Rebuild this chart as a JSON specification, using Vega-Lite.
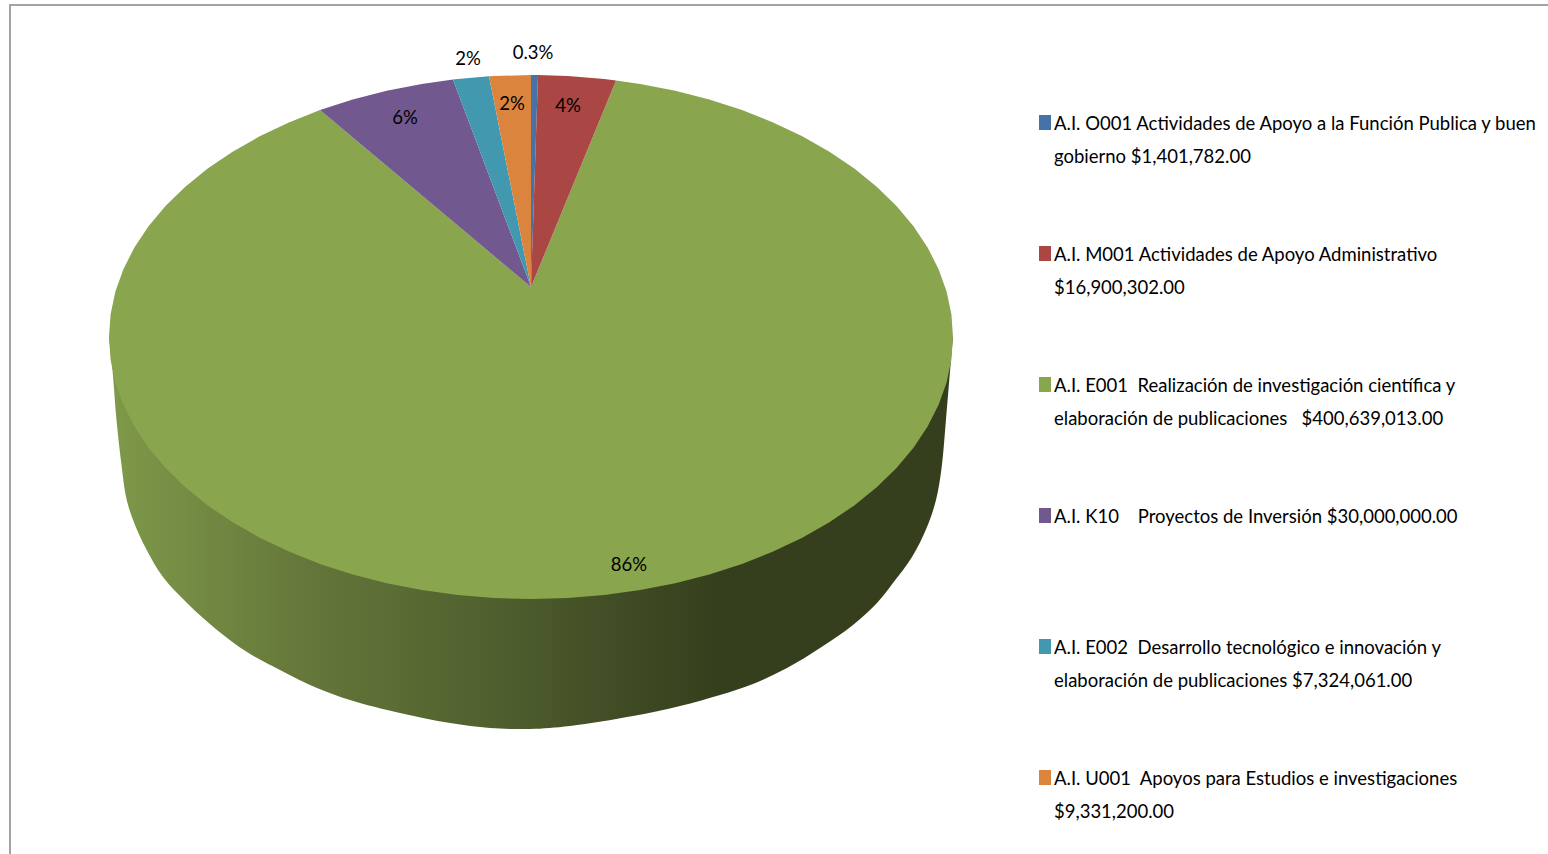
{
"$schema":"https://vega.github.io/schema/vega-lite/v6.json",
"width":1548,"height":854,"padding":0,"autosize":{"type":"none"},"background":"#ffffff",
"config":{"view":{"stroke":null}},
"datasets":{
"frame":[{"i":0,"x":10,"y":854},{"i":1,"x":10,"y":5},{"i":2,"x":1548,"y":5}],
"wall":[
{"i":0,"x":109,"y":337},{"i":1,"x":112.5,"y":370},{"i":2,"x":116.5,"y":420},{"i":3,"x":121.5,"y":465},{"i":4,"x":126.7,"y":500},{"i":5,"x":135,"y":525},{"i":6,"x":146.7,"y":550},{"i":7,"x":163,"y":577},{"i":8,"x":187,"y":603},{"i":9,"x":217,"y":630},{"i":10,"x":247,"y":652},{"i":11,"x":280,"y":670},{"i":12,"x":317,"y":688},{"i":13,"x":350,"y":700},{"i":14,"x":400,"y":713},{"i":15,"x":450,"y":723},{"i":16,"x":490,"y":728},{"i":17,"x":530,"y":729},{"i":18,"x":570,"y":726},{"i":19,"x":633,"y":716},{"i":20,"x":680,"y":706},{"i":21,"x":720,"y":695},{"i":22,"x":753,"y":684},{"i":23,"x":787,"y":668},{"i":24,"x":820,"y":648},{"i":25,"x":853,"y":625},{"i":26,"x":877,"y":603},{"i":27,"x":893,"y":583},{"i":28,"x":912,"y":557},{"i":29,"x":927,"y":527},{"i":30,"x":936,"y":500},{"i":31,"x":941.7,"y":467},{"i":32,"x":945.7,"y":423},{"i":33,"x":950.7,"y":363},{"i":34,"x":953,"y":337}
],
"slices":[
{"slice":"E001","i":0,"x":531,"y":287},{"slice":"E001","i":1,"x":616,"y":80.4},{"slice":"E001","i":2,"x":640.2,"y":83.9},{"slice":"E001","i":3,"x":675.3,"y":90.8},{"slice":"E001","i":4,"x":709.3,"y":99.5},{"slice":"E001","i":5,"x":742,"y":110.1},{"slice":"E001","i":6,"x":773.1,"y":122.4},{"slice":"E001","i":7,"x":802.3,"y":136.3},{"slice":"E001","i":8,"x":829.4,"y":151.7},{"slice":"E001","i":9,"x":854.3,"y":168.6},{"slice":"E001","i":10,"x":876.7,"y":186.7},{"slice":"E001","i":11,"x":896.5,"y":206},{"slice":"E001","i":12,"x":913.5,"y":226.3},{"slice":"E001","i":13,"x":927.6,"y":247.4},{"slice":"E001","i":14,"x":938.6,"y":269.2},{"slice":"E001","i":15,"x":946.6,"y":291.5},{"slice":"E001","i":16,"x":951.4,"y":314.2},{"slice":"E001","i":17,"x":953,"y":337},{"slice":"E001","i":18,"x":951.4,"y":359.8},{"slice":"E001","i":19,"x":946.6,"y":382.5},{"slice":"E001","i":20,"x":938.6,"y":404.8},{"slice":"E001","i":21,"x":927.6,"y":426.6},{"slice":"E001","i":22,"x":913.5,"y":447.7},{"slice":"E001","i":23,"x":896.5,"y":468},{"slice":"E001","i":24,"x":876.7,"y":487.3},{"slice":"E001","i":25,"x":854.3,"y":505.4},{"slice":"E001","i":26,"x":829.4,"y":522.3},{"slice":"E001","i":27,"x":802.3,"y":537.7},{"slice":"E001","i":28,"x":773.1,"y":551.6},{"slice":"E001","i":29,"x":742,"y":563.9},{"slice":"E001","i":30,"x":709.3,"y":574.5},{"slice":"E001","i":31,"x":675.3,"y":583.2},{"slice":"E001","i":32,"x":640.2,"y":590.1},{"slice":"E001","i":33,"x":604.3,"y":595},{"slice":"E001","i":34,"x":567.8,"y":598},{"slice":"E001","i":35,"x":531,"y":599},{"slice":"E001","i":36,"x":494.2,"y":598},{"slice":"E001","i":37,"x":457.7,"y":595},{"slice":"E001","i":38,"x":421.8,"y":590.1},{"slice":"E001","i":39,"x":386.7,"y":583.2},{"slice":"E001","i":40,"x":352.7,"y":574.5},{"slice":"E001","i":41,"x":320,"y":563.9},{"slice":"E001","i":42,"x":288.9,"y":551.6},{"slice":"E001","i":43,"x":259.7,"y":537.7},{"slice":"E001","i":44,"x":232.6,"y":522.3},{"slice":"E001","i":45,"x":207.7,"y":505.4},{"slice":"E001","i":46,"x":185.3,"y":487.3},{"slice":"E001","i":47,"x":165.5,"y":468},{"slice":"E001","i":48,"x":148.5,"y":447.7},{"slice":"E001","i":49,"x":134.4,"y":426.6},{"slice":"E001","i":50,"x":123.4,"y":404.8},{"slice":"E001","i":51,"x":115.4,"y":382.5},{"slice":"E001","i":52,"x":110.6,"y":359.8},{"slice":"E001","i":53,"x":109,"y":337},{"slice":"E001","i":54,"x":110.6,"y":314.2},{"slice":"E001","i":55,"x":115.4,"y":291.5},{"slice":"E001","i":56,"x":123.4,"y":269.2},{"slice":"E001","i":57,"x":134.4,"y":247.4},{"slice":"E001","i":58,"x":148.5,"y":226.3},{"slice":"E001","i":59,"x":165.5,"y":206},{"slice":"E001","i":60,"x":185.3,"y":186.7},{"slice":"E001","i":61,"x":207.7,"y":168.6},{"slice":"E001","i":62,"x":232.6,"y":151.7},{"slice":"E001","i":63,"x":259.7,"y":136.3},{"slice":"E001","i":64,"x":288.9,"y":122.4},{"slice":"E001","i":65,"x":320,"y":110.1},
{"slice":"K10","i":0,"x":531,"y":287},{"slice":"K10","i":1,"x":320,"y":110.1},{"slice":"K10","i":2,"x":352.7,"y":99.5},{"slice":"K10","i":3,"x":386.7,"y":90.8},{"slice":"K10","i":4,"x":421.8,"y":83.9},{"slice":"K10","i":5,"x":453,"y":79.5},
{"slice":"E002","i":0,"x":531,"y":287},{"slice":"E002","i":1,"x":453,"y":79.5},{"slice":"E002","i":2,"x":457.7,"y":79},{"slice":"E002","i":3,"x":489,"y":76.3},
{"slice":"U001","i":0,"x":531,"y":287},{"slice":"U001","i":1,"x":489,"y":76.3},{"slice":"U001","i":2,"x":494.2,"y":76},{"slice":"U001","i":3,"x":531,"y":75},
{"slice":"O001","i":0,"x":531,"y":287},{"slice":"O001","i":1,"x":531,"y":75},{"slice":"O001","i":2,"x":538,"y":75.1},
{"slice":"M001","i":0,"x":531,"y":287},{"slice":"M001","i":1,"x":538,"y":75.1},{"slice":"M001","i":2,"x":567.8,"y":76},{"slice":"M001","i":3,"x":604.3,"y":79},{"slice":"M001","i":4,"x":616,"y":80.4}
],
"shares":[
{"text":"0.3%","x":533,"y":53},{"text":"4%","x":568,"y":106},{"text":"86%","x":629,"y":565},{"text":"6%","x":405,"y":118},{"text":"2%","x":468,"y":59},{"text":"2%","x":512,"y":104}
],
"keys":[
{"slice":"O001","x":1039,"x2":1051,"y":115,"y2":130},
{"slice":"M001","x":1039,"x2":1051,"y":246,"y2":261},
{"slice":"E001","x":1039,"x2":1051,"y":377,"y2":392},
{"slice":"K10","x":1039,"x2":1051,"y":508,"y2":523},
{"slice":"E002","x":1039,"x2":1051,"y":639,"y2":654},
{"slice":"U001","x":1039,"x2":1051,"y":770,"y2":785}
],
"labels":[
{"text":"A.I. O001 Actividades de Apoyo a la Función Publica y buen\ngobierno $1,401,782.00","x":1054,"y":130},
{"text":"A.I. M001 Actividades de Apoyo Administrativo\n$16,900,302.00","x":1054,"y":261},
{"text":"A.I. E001 \u00a0Realización de investigación científica y\nelaboración de publicaciones \u00a0 $400,639,013.00","x":1054,"y":392},
{"text":"A.I. K10 \u00a0 \u00a0Proyectos de Inversión $30,000,000.00","x":1054,"y":523},
{"text":"A.I. E002 \u00a0Desarrollo tecnológico e innovación y\nelaboración de publicaciones $7,324,061.00","x":1054,"y":654},
{"text":"A.I. U001 \u00a0Apoyos para Estudios e investigaciones\n$9,331,200.00","x":1054,"y":785}
]
},
"encoding":{
"x":{"field":"x","type":"quantitative","axis":null,"scale":{"domain":[0,1548],"nice":false,"zero":false}},
"y":{"field":"y","type":"quantitative","axis":null,"scale":{"domain":[854,0],"nice":false,"zero":false}}
},
"layer":[
{"data":{"name":"frame"},"mark":{"type":"line","stroke":"#a3a3a3","strokeWidth":2},"encoding":{"order":{"field":"i"}}},
{"data":{"name":"wall"},
 "mark":{"type":"line","strokeWidth":0,"interpolate":"catmull-rom","fill":{"gradient":"linear","x1":0,"y1":0,"x2":1,"y2":0,"stops":[{"offset":0,"color":"#7f9a4a"},{"offset":0.23,"color":"#65773a"},{"offset":0.46,"color":"#4f5f2e"},{"offset":0.58,"color":"#434f26"},{"offset":0.72,"color":"#353f1d"},{"offset":1,"color":"#353f1d"}]}},
 "encoding":{"order":{"field":"i"}}},
{"data":{"name":"slices"},
 "mark":{"type":"line","strokeWidth":0,"filled":true},
 "encoding":{"order":{"field":"i"},
  "fill":{"field":"slice","type":"nominal","legend":null,"scale":{"domain":["O001","M001","E001","K10","E002","U001"],"range":["#4572a7","#aa4643","#89a54e","#71588f","#4198af","#db843d"]}},
  "detail":{"field":"slice"}}},
{"data":{"name":"shares"},
 "mark":{"type":"text","font":"Lato","fontSize":18.5,"baseline":"middle","align":"center","fill":"#000000"},
 "encoding":{"text":{"field":"text"}}},
{"data":{"name":"keys"},
 "mark":{"type":"rect"},
 "encoding":{"x2":{"field":"x2"},"y2":{"field":"y2"},"fill":{"field":"slice","type":"nominal","legend":null}}},
{"data":{"name":"labels"},
 "mark":{"type":"text","font":"Lato","fontSize":18.5,"align":"left","baseline":"alphabetic","lineBreak":"\n","lineHeight":33,"fill":"#000000"},
 "encoding":{"text":{"field":"text"}}}
]
}
